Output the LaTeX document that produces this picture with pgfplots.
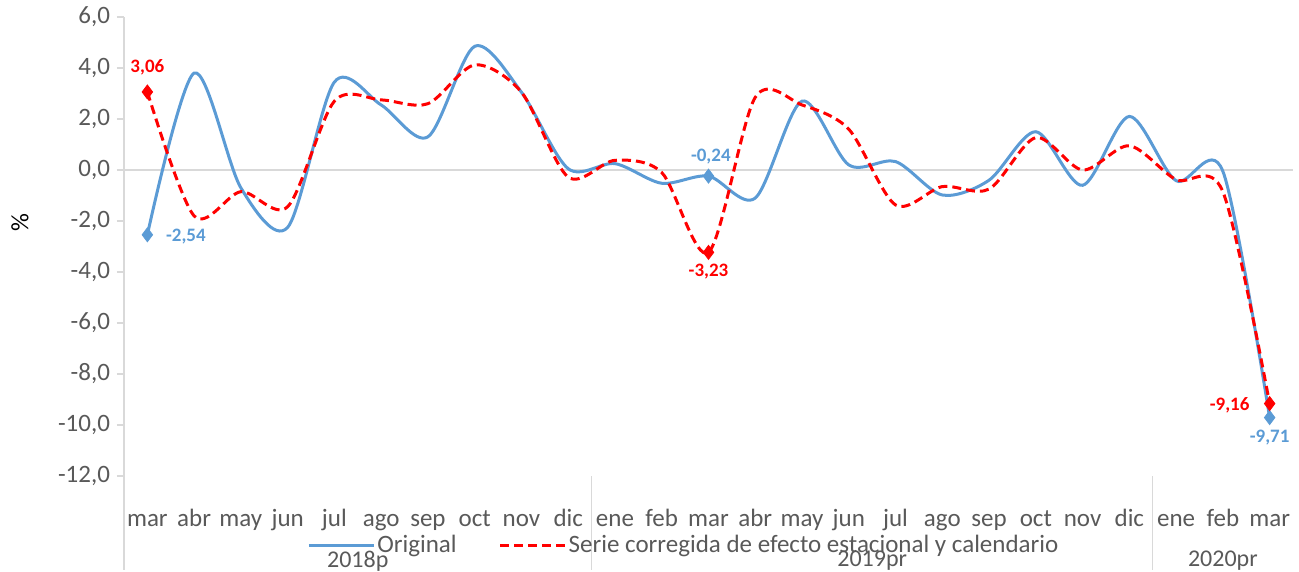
\documentclass[border=0pt]{standalone}
\usepackage{pgfplots}
\pgfplotsset{compat=1.18}
\usepackage{pgfplotstable}
\usepackage{fontspec}
\setmainfont{Carlito}
\definecolor{blueS}{HTML}{5B9BD5}
\definecolor{redS}{HTML}{FF0000}
\definecolor{axisgray}{HTML}{D9D9D9}
\definecolor{textgray}{HTML}{595959}

\pgfplotstableread{
x y
0 -2.54
1 3.80
2 -0.70
3 -2.25
4 3.45
5 2.55
6 1.30
7 4.85
8 3.05
9 0.05
10 0.25
11 -0.52
12 -0.24
13 -1.10
14 2.70
15 0.20
16 0.33
17 -0.98
18 -0.40
19 1.50
20 -0.60
21 2.10
22 -0.42
23 -0.05
24 -9.71
}\original

\pgfplotstableread{
x y
0 3.06
1 -1.80
2 -0.85
3 -1.44
4 2.70
5 2.75
6 2.60
7 4.12
8 3.05
9 -0.28
10 0.38
11 -0.10
12 -3.23
13 2.85
14 2.55
15 1.60
16 -1.37
17 -0.65
18 -0.75
19 1.27
20 0.00
21 0.95
22 -0.38
23 -0.85
24 -9.16
}\corregida

\begin{document}
\begin{tikzpicture}
\begin{axis}[
  scale only axis, width=584.5pt, height=229.5pt,
  xmin=-0.5, xmax=24.5, ymin=-12, ymax=6,
  ytick={-12,-10,...,6},
  xtick={0,...,24},
  xticklabels={mar,abr,may,jun,jul,ago,sep,oct,nov,dic,ene,feb,mar,abr,may,jun,jul,ago,sep,oct,nov,dic,ene,feb,mar},
  axis y line*=left, axis x line*=bottom,
  axis line style={-},
  x axis line style={draw=none},
  y axis line style={draw=axisgray, line width=0.75pt},
  xtick style={draw=none},
  ytick style={draw=axisgray, line width=0.75pt},
  tick align=outside, major tick length=3.5pt,
  /pgf/number format/assume math mode=true,
  /pgf/number format/fixed,
  /pgf/number format/fixed zerofill,
  /pgf/number format/precision=1,
  /pgf/number format/use comma,
  yticklabel style={font=\fontsize{12.5}{14}\selectfont, text=textgray},
  xticklabel style={font=\fontsize{12.5}{14}\selectfont, text=textgray, anchor=base, yshift=-21.5pt},
  clip=false,
  legend style={at={(0.1565,-0.152)}, anchor=west, draw=none, fill=none,
    legend columns=2, font=\fontsize{12.5}{14}\selectfont, text=textgray,
    inner sep=0pt, nodes={inner sep=1pt},
    /tikz/every even column/.append style={column sep=20pt}},
  legend image code/.code={\draw[#1] (0pt,0pt) -- (32.5pt,0pt);},
]
\draw[axisgray, line width=0.75pt] (axis cs:-0.5,0) -- (axis cs:24.5,0);
\draw[axisgray, line width=0.75pt] (rel axis cs:0,0) -- (rel axis cs:0,-0.2048);
\draw[axisgray, line width=0.75pt] (rel axis cs:0.4,0) -- (rel axis cs:0.4,-0.2048);
\draw[axisgray, line width=0.75pt] (rel axis cs:0.88,0) -- (rel axis cs:0.88,-0.2048);

\addplot[color=blueS, line width=1.5pt, smooth, tension=0.5] table[x=x,y=y] {\original};
\addlegendentry{Original}
\addplot[color=redS, line width=1.5pt, dash pattern=on 4.5pt off 2.5pt, smooth, tension=0.5] table[x=x,y=y] {\corregida};
\addlegendentry{Serie corregida de efecto estacional y calendario}

\addplot[only marks, mark=diamond*, mark size=3.5pt, color=blueS, forget plot] coordinates {(0,-2.54) (12,-0.24) (24,-9.71)};
\addplot[only marks, mark=diamond*, mark size=3.5pt, color=redS, forget plot] coordinates {(0,3.06) (12,-3.23) (24,-9.16)};

\node[font=\fontsize{9.5}{11}\selectfont\bfseries, text=redS] at (axis cs:0,4.04) {3,06};
\node[font=\fontsize{9.5}{11}\selectfont\bfseries, text=blueS, anchor=west] at (axis cs:0.25,-2.6) {-2,54};
\node[font=\fontsize{9.5}{11}\selectfont\bfseries, text=blueS] at (axis cs:12.05,0.51) {-0,24};
\node[font=\fontsize{9.5}{11}\selectfont\bfseries, text=redS] at (axis cs:12,-4.0) {-3,23};
\node[font=\fontsize{9.5}{11}\selectfont\bfseries, text=redS, anchor=east] at (axis cs:23.72,-9.22) {-9,16};
\node[font=\fontsize{9.5}{11}\selectfont\bfseries, text=blueS] at (axis cs:24,-10.49) {-9,71};

\node[rotate=90, font=\fontsize{12.5}{14}\selectfont] at (rel axis cs:-0.089,0.553) {\%};
\node[font=\fontsize{12}{14}\selectfont, text=textgray] at (rel axis cs:0.2,-0.185) {2018p};
\node[font=\fontsize{12}{14}\selectfont, text=textgray] at (rel axis cs:0.64,-0.185) {2019pr};
\node[font=\fontsize{12}{14}\selectfont, text=textgray] at (rel axis cs:0.94,-0.185) {2020pr};

\coordinate (BL) at (rel axis cs:-0.10607,-0.20697);
\coordinate (TR) at (rel axis cs:1.00513,1.03704);
\end{axis}
\pgfresetboundingbox
\useasboundingbox (BL) rectangle (TR);
\end{tikzpicture}
\end{document}
